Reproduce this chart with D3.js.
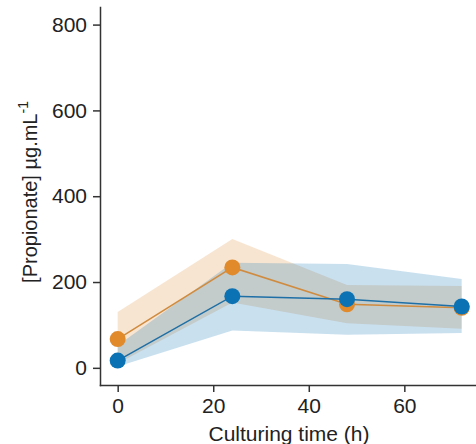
<!DOCTYPE html>
<html lang="en">
<head>
<meta charset="UTF-8">
<title>propionate</title>
<script src="https://d3js.org/d3.v7.min.js"></script>
<style>
    body { margin: 0; background: #fff; }
    svg { display: block; font-family: "Liberation Sans", Arial, sans-serif; }
    .axis path, .axis line { stroke: #333; stroke-width: 1.5px; }
    .axis text { font-size: 21px; fill: #222; }
</style>
</head>
<body>
<script>
    // culturing time (h)
    var hours = [0, 24, 48, 72];

    // orange series
    var orangeMean  = [67, 234, 148, 140];
    var orangeLower = [10, 152, 104, 91];
    var orangeUpper = [130, 300, 193, 191];

    // blue series
    var blueMean  = [17, 167, 160, 143];
    var blueLower = [3, 87, 77, 81];
    var blueUpper = [52, 245, 242, 207];

    var xTicks = [0, 20, 40, 60];
    var yTicks = [0, 200, 400, 600, 800];

    var W = 476, H = 444;
    var margin = {left: 100, top: 7, right: 0, bottom: 59};

    var svg = d3.select("body").append("svg")
        .attr("width", W)
        .attr("height", H);

    var x = d3.scaleLinear()
        .domain([-3.7, 75])
        .range([margin.left, W - margin.right]);

    var y = d3.scaleLinear()
        .domain([-40, 841])
        .range([H - margin.bottom, margin.top]);

    function rows(mean, lo, hi) {
        return hours.map(function (h, i) {
            return {t: h, m: mean[i], lo: lo[i], hi: hi[i]};
        });
    }

    var series = [
        {color: "#E08A2C", line: "#D08B3E", data: rows(orangeMean, orangeLower, orangeUpper)},
        {color: "#0B72B4", line: "#1D6FA6", data: rows(blueMean, blueLower, blueUpper)}
    ];

    var area = d3.area()
        .x(function (d) { return x(d.t); })
        .y0(function (d) { return y(d.lo); })
        .y1(function (d) { return y(d.hi); });

    var line = d3.line()
        .x(function (d) { return x(d.t); })
        .y(function (d) { return y(d.m); });

    // bands first
    series.forEach(function (s) {
        svg.append("path")
            .datum(s.data)
            .attr("d", area)
            .attr("fill", s.color)
            .attr("fill-opacity", 0.22);
    });

    series.forEach(function (s) {
        svg.append("path")
            .datum(s.data)
            .attr("d", line)
            .attr("fill", "none")
            .attr("stroke", s.line)
            .attr("stroke-width", 1.5);

        svg.append("g").selectAll("circle")
            .data(s.data)
            .enter()
            .append("circle")
            .attr("cx", function (d) { return x(d.t); })
            .attr("cy", function (d) { return y(d.m); })
            .attr("r", 8)
            .attr("fill", s.color);
    });

    // axes
    svg.append("g")
        .attr("class", "axis")
        .attr("transform", "translate(0," + (H - margin.bottom) + ")")
        .call(d3.axisBottom(x).tickValues(xTicks).tickSize(7).tickSizeOuter(0).tickPadding(6));

    svg.append("g")
        .attr("class", "axis")
        .attr("transform", "translate(" + margin.left + ",0)")
        .call(d3.axisLeft(y).tickValues(yTicks).tickSize(7).tickSizeOuter(0).tickPadding(6));

    svg.selectAll(".axis .domain").attr("stroke-linecap", "square");

    svg.append("text")
        .attr("x", 289)
        .attr("y", 441)
        .attr("text-anchor", "middle")
        .style("font-size", "21px")
        .attr("fill", "#222")
        .text("Culturing time (h)");

    var yl = svg.append("text")
        .attr("transform", "translate(37,192) rotate(-90)")
        .attr("text-anchor", "middle")
        .style("font-size", "20px")
        .attr("fill", "#222");
    yl.append("tspan").text("[Propionate] \u00b5g.mL");
    yl.append("tspan").attr("dy", -9).style("font-size", "14px").text("-1");
</script>
</body>
</html>
